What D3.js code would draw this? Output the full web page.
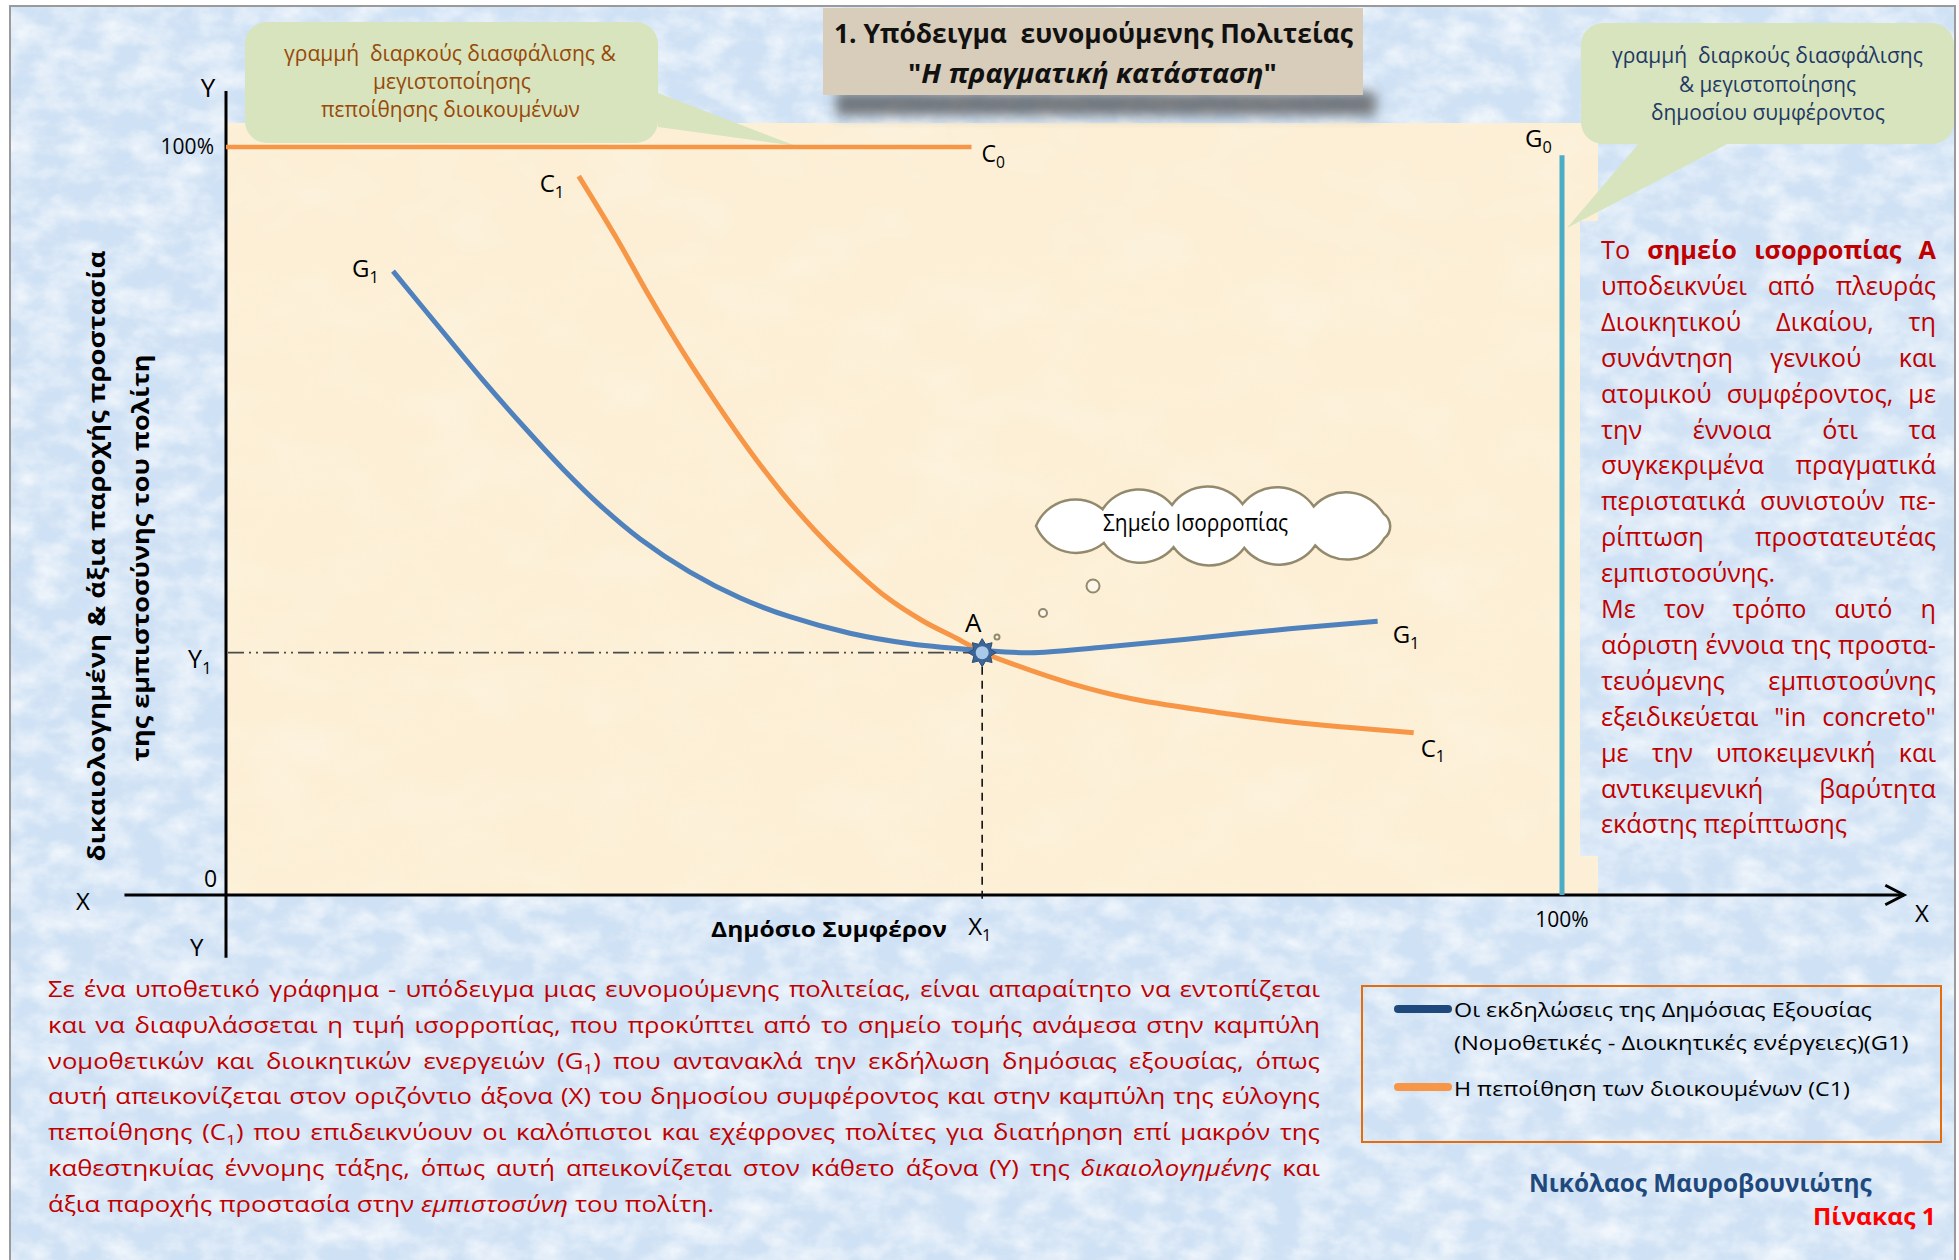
<!DOCTYPE html>
<html><head><meta charset="utf-8">
<script src="https://cdn.jsdelivr.net/npm/d3@7"></script>
<style>html,body{margin:0;padding:0;background:#fff;} svg{display:block;}</style>
</head><body>
<script>
// ---------------- DATA ----------------
// curve points: [x% of public interest, y% of justified trust]
const G1 = [[12.5,83.4],[16.0,75.8],[19.2,68.9],[22.4,62.4],[25.2,57.0],[28.0,52.1],[31.0,47.6],[34.7,43.2],[38.5,39.7],[42.2,37.2],[46.7,35.0],[51.2,33.6],[56.6,32.7],[60.2,32.4],[65.4,33.1],[71.9,34.2],[79.6,35.6],[86.2,36.6]];
const C1 = [[26.4,96.1],[29.3,87.6],[31.7,80.0],[34.2,72.6],[36.7,65.8],[39.2,59.4],[41.7,53.6],[44.1,48.7],[46.5,44.4],[49.3,40.0],[52.2,36.6],[54.6,34.4],[56.6,32.5],[58.4,31.2],[63.2,28.3],[67.9,26.2],[75.1,24.2],[79.9,23.1],[88.9,21.7]];
const C0 = [[0,100],[55.8,100]];
const G0 = [[100,0],[100,98.9]];
const A = {x:56.6, y:32.4};
const yTickValues = [100, A.y, 0];
const yTickLabels = ["100%", "Y<sub>1</sub>", "0"];
const xTickValues = [A.x, 100];
const xTickLabels = ["X<sub>1</sub>", "100%"];
const titleLines = ["1. Υπόδειγμα  ευνομούμενης Πολιτείας", "\"<i>Η πραγματική κατάσταση</i>\""];
const leftCallout = ["γραμμή  διαρκούς διασφάλισης &", "μεγιστοποίησης", "πεποίθησης διοικουμένων"];
const rightCallout = ["γραμμή  διαρκούς διασφάλισης", "& μεγιστοποίησης", "δημοσίου συμφέροντος"];
const yAxisTitle = ["δικαιολογημένη & άξια παροχής προστασία", "της εμπιστοσύνης του πολίτη"];
const xAxisTitle = "Δημόσιο Συμφέρον";
const cloudText = "Σημείο Ισορροπίας";
const noteLines = [
"Το <b>σημείο ισορροπίας Α</b>",
"υποδεικνύει από πλευράς",
"Διοικητικού Δικαίου, τη",
"συνάντηση γενικού και",
"ατομικού συμφέροντος, με",
"την έννοια ότι τα",
"συγκεκριμένα πραγματικά",
"περιστατικά συνιστούν πε-",
"ρίπτωση προστατευτέας",
"εμπιστοσύνης.",
"Με τον τρόπο αυτό η",
"αόριστη έννοια της προστα-",
"τευόμενης εμπιστοσύνης",
"εξειδικεύεται \"in concreto\"",
"με την υποκειμενική και",
"αντικειμενική βαρύτητα",
"εκάστης περίπτωσης"];
const bodyLines = [
"Σε ένα υποθετικό γράφημα - υπόδειγμα μιας ευνομούμενης πολιτείας, είναι απαραίτητο να εντοπίζεται",
"και να διαφυλάσσεται η τιμή ισορροπίας, που προκύπτει από το σημείο τομής ανάμεσα στην καμπύλη",
"νομοθετικών και διοικητικών ενεργειών (G<sub>1</sub>) που αντανακλά την εκδήλωση δημόσιας εξουσίας, όπως",
"αυτή απεικονίζεται στον οριζόντιο άξονα (X) του δημοσίου συμφέροντος και στην καμπύλη της εύλογης",
"πεποίθησης (C<sub>1</sub>) που επιδεικνύουν οι καλόπιστοι και εχέφρονες πολίτες για διατήρηση επί μακρόν της",
"καθεστηκυίας έννομης τάξης, όπως αυτή απεικονίζεται στον κάθετο άξονα (Y) της <i>δικαιολογημένης</i> και",
"άξια παροχής προστασία στην <i>εμπιστοσύνη</i> του πολίτη."];
const legendSeries = ["G1", "C1"];
const legendLines = [["Οι εκδηλώσεις της Δημόσιας Εξουσίας", "(Νομοθετικές - Διοικητικές ενέργειες)(G1)"], ["Η πεποίθηση των διοικουμένων (C1)"]];
const author = "Νικόλαος Μαυροβουνιώτης";
const tableLabel = "Πίνακας 1";

// ---------------- SETUP ----------------
const W = 1959, H = 1260;
const FONT = "'Open Sans','Noto Sans','DejaVu Sans',sans-serif";
const BLUE = "#4f81bd", ORANGE = "#f79646", TEAL = "#4bacc6", DARKBLUE = "#1f497d", RED = "#c00000";
const svg = d3.select("body").append("svg").attr("width", W).attr("height", H).attr("font-family", FONT);
const defs = svg.append("defs");

function paper(id, freq, k, b, seed, oct) {
  const f = defs.append("filter").attr("id", id).attr("filterUnits", "userSpaceOnUse")
    .attr("x", 0).attr("y", 0).attr("width", W).attr("height", H);
  f.append("feTurbulence").attr("type", "fractalNoise").attr("baseFrequency", freq).attr("numOctaves", oct).attr("seed", seed);
  f.append("feColorMatrix").attr("type", "matrix").attr("values", `0 0 0 0 1  0 0 0 0 1  0 0 0 0 1  ${k} 0 0 0 ${b}`);
}
paper("paperBlue", "0.03 0.045", 1.5, -0.5, 3, 4);
paper("paperBeige", "0.012 0.018", 1.0, -0.4, 7, 3);
const blur = defs.append("filter").attr("id", "shadow").attr("x", "-20%").attr("y", "-100%").attr("width", "140%").attr("height", "300%");
blur.append("feGaussianBlur").attr("stdDeviation", 6);

const x = d3.scaleLinear().domain([0, 100]).range([226, 1562]);
const y = d3.scaleLinear().domain([0, 100]).range([895, 147]);

// ---------- text helpers ----------
function parseSegs(str) {
  const re = /<(\/?)(b|i|sub)>|([^<]+)/g; let m; const st = {b:0,i:0,sub:0}; const segs = [];
  while ((m = re.exec(str))) {
    if (m[2]) { st[m[2]] = m[1] ? 0 : 1; continue; }
    segs.push({t:m[3], b:st.b, i:st.i, sub:st.sub});
  }
  return segs;
}
function parseWords(str) {
  const words = []; let cur = [];
  parseSegs(str).forEach(s => {
    s.t.split(/( +)/).forEach(p => {
      if (p === "") return;
      if (/^ +$/.test(p)) { if (cur.length) { words.push(cur); cur = []; } }
      else cur.push({t:p, b:s.b, i:s.i, sub:s.sub});
    });
  });
  if (cur.length) words.push(cur);
  return words;
}
function rich(t, segs, size) {
  let shifted = false;
  segs.forEach(s => {
    const ts = t.append("tspan").text(s.t);
    if (s.b) ts.attr("font-weight", "bold");
    if (s.i) ts.attr("font-style", "italic");
    if (s.sub) { ts.attr("font-size", size * 0.68).attr("dy", size * 0.24); shifted = true; }
    else if (shifted) { ts.attr("dy", -size * 0.24); shifted = false; }
  });
}
function label(g, o) {
  const t = g.append("text").attr("x", o.x).attr("y", o.y).attr("font-size", o.size)
    .attr("fill", o.fill || "#000").style("white-space", "pre");
  if (o.weight) t.attr("font-weight", o.weight);
  if (o.anchor) t.attr("text-anchor", o.anchor);
  if (o.transform) t.attr("transform", o.transform);
  rich(t, parseSegs(o.text), o.size);
  if (o.width) t.attr("textLength", o.width).attr("lengthAdjust", "spacingAndGlyphs");
  return t;
}
// fit a single line into a width by horizontal scaling
function fitLabel(g, o) {
  const t = g.append("text").attr("font-size", o.size).attr("fill", o.fill || "#000").style("white-space", "pre");
  if (o.weight) t.attr("font-weight", o.weight);
  rich(t, parseSegs(o.text), o.size);
  const w = t.node().getComputedTextLength();
  t.attr("transform", `translate(${o.x},${o.y}) scale(${o.width / w},1)`);
  return t;
}
function block(g, lines, o) {
  const tmp = g.append("text").attr("font-size", o.size).style("white-space", "pre");
  tmp.text("a a"); const w1 = tmp.node().getComputedTextLength();
  tmp.text("aa"); const w2 = tmp.node().getComputedTextLength();
  tmp.remove();
  const sp = w1 - w2;
  const laid = lines.map(ln => parseWords(ln).map(wd => {
    const t = g.append("text").attr("font-size", o.size).attr("fill", o.fill);
    rich(t, wd, o.size);
    return {t, w: t.node().getComputedTextLength()};
  }));
  const cal = laid[o.calibLine];
  const s = o.calibWidth / (d3.sum(cal, d => d.w) + sp * (cal.length - 1));
  const Wd = o.x1 - o.x0;
  laid.forEach((els, i) => {
    const sum = d3.sum(els, d => d.w);
    let sc = s, gap = sp * s;
    if (o.justify(i) && els.length > 1) {
      gap = (Wd - sum * sc) / (els.length - 1);
      const minG = sp * s * 0.7;
      if (gap < minG) { sc = (Wd - minG * (els.length - 1)) / sum; gap = minG; }
    }
    let cx = o.x0; const yy = o.y0 + i * o.lh;
    els.forEach(e => { e.t.attr("transform", `translate(${cx},${yy}) scale(${sc},1)`); cx += e.w * sc + gap; });
  });
}

// ---------------- BACKGROUND ----------------
const bg = svg.append("g");
bg.append("rect").attr("x", 10).attr("y", 6).attr("width", 1945).attr("height", 1270).attr("fill", "#cfe1f4");
bg.append("rect").attr("x", 10).attr("y", 6).attr("width", 1945).attr("height", 1270).attr("filter", "url(#paperBlue)").attr("opacity", 0.85);
bg.append("rect").attr("x", 10).attr("y", 6).attr("width", 1945).attr("height", 1270).attr("fill", "none").attr("stroke", "#9a9a9a").attr("stroke-width", 2);

// beige plotting area (minus the note box)
const beigePts = [[226,123],[1598,123],[1598,221],[1580,221],[1580,856],[1598,856],[1598,895],[226,895]];
const beigeD = "M" + beigePts.map(p => p.join(",")).join("L") + "Z";
defs.append("clipPath").attr("id", "beigeClip").append("path").attr("d", beigeD);
bg.append("path").attr("d", beigeD).attr("fill", "#fcefd5");
bg.append("rect").attr("x", 226).attr("y", 123).attr("width", 1372).attr("height", 772)
  .attr("clip-path", "url(#beigeClip)").attr("filter", "url(#paperBeige)").attr("opacity", 0.4);

// title box
bg.append("rect").attr("x", 836).attr("y", 92).attr("width", 540).attr("height", 24).attr("fill", "#3f3f3f")
  .attr("opacity", 0.65).attr("filter", "url(#shadow)");
bg.append("rect").attr("x", 823).attr("y", 8).attr("width", 540).attr("height", 87).attr("fill", "#d8ccba");
fitLabel(svg, {x: 834, y: 43, text: titleLines[0], size: 27, weight: "bold", width: 519, fill: "#111"});
fitLabel(svg, {x: 908, y: 83, text: titleLines[1], size: 27, weight: "bold", width: 369, fill: "#111"});

// callouts
const GREEN = "#d7e4bd";
const cg = svg.append("g");
cg.append("path").attr("d", "M658,93L796,146L658,127Z").attr("fill", GREEN);
cg.append("rect").attr("x", 245).attr("y", 22).attr("width", 413).attr("height", 121).attr("rx", 22).attr("fill", GREEN);
cg.append("path").attr("d", "M1642,140L1567,228L1735,140Z").attr("fill", GREEN);
cg.append("rect").attr("x", 1581).attr("y", 23).attr("width", 373).attr("height", 121).attr("rx", 22).attr("fill", GREEN);
[[284,61,332],[373,89,158],[321,117,259]].forEach((p, i) =>
  fitLabel(cg, {x: p[0], y: p[1], text: leftCallout[i], size: 21, width: p[2], fill: "#984807"}));
[[1612,63,311],[1679,92,177],[1651,120,234]].forEach((p, i) =>
  fitLabel(cg, {x: p[0], y: p[1], text: rightCallout[i], size: 21, width: p[2], fill: "#1f3864"}));

// ---------------- CHART ----------------
const ch = svg.append("g");
const line = d3.line().x(d => x(d[0])).y(d => y(d[1]));
const smooth = d3.line().x(d => x(d[0])).y(d => y(d[1])).curve(d3.curveCatmullRom.alpha(0.5));

// axes
ch.append("line").attr("x1", x(-7.6)).attr("x2", x(125.6)).attr("y1", y(0)).attr("y2", y(0)).attr("stroke", "#000").attr("stroke-width", 3);
ch.append("path").attr("d", `M${x(124.2)},${y(1.3)}L${x(125.6)},${y(0)}L${x(124.2)},${y(-1.3)}`)
  .attr("fill", "none").attr("stroke", "#000").attr("stroke-width", 3);
ch.append("line").attr("x1", x(0)).attr("x2", x(0)).attr("y1", y(107.5)).attr("y2", y(-8.4)).attr("stroke", "#000").attr("stroke-width", 3);

// guide lines through A
ch.append("line").attr("x1", x(0) + 2).attr("x2", x(A.x)).attr("y1", y(A.y)).attr("y2", y(A.y))
  .attr("stroke", "#4a4a4a").attr("stroke-width", 1.6).attr("stroke-dasharray", "16,5,2,5,2,5");
ch.append("line").attr("x1", x(A.x)).attr("x2", x(A.x)).attr("y1", y(A.y)).attr("y2", y(-1.2))
  .attr("stroke", "#111").attr("stroke-width", 1.6).attr("stroke-dasharray", "8,6");

// C0 and G0
ch.append("path").attr("d", line(C0)).attr("stroke", ORANGE).attr("stroke-width", 4.5).attr("fill", "none");
ch.append("path").attr("d", line(G0)).attr("stroke", TEAL).attr("stroke-width", 5).attr("fill", "none");
// curves
ch.append("path").attr("d", smooth(C1)).attr("stroke", ORANGE).attr("stroke-width", 5).attr("fill", "none");
ch.append("path").attr("d", smooth(G1)).attr("stroke", BLUE).attr("stroke-width", 5).attr("fill", "none");

// equilibrium star
const starPts = d3.range(16).map(i => [i * Math.PI / 8, i % 2 ? 9 : 14]);
const star = d3.lineRadial().angle(d => d[0]).radius(d => d[1]).curve(d3.curveLinearClosed);
const sg = ch.append("g").attr("transform", `translate(${x(A.x)},${y(A.y)})`);
sg.append("path").attr("d", star(starPts)).attr("fill", "#3c6597").attr("stroke", "#2b4c78").attr("stroke-width", 1);
sg.append("circle").attr("r", 6.5).attr("fill", "#a9c8ea");

// cloud callout
function cloudPath(cx, cy, rx, ry, n, f) {
  const N = 720, pts = [], cum = [0];
  for (let i = 0; i <= N; i++) {
    const a = i / N * 2 * Math.PI; pts.push([cx + rx * Math.cos(a), cy + ry * Math.sin(a)]);
    if (i > 0) cum.push(cum[i - 1] + Math.hypot(pts[i][0] - pts[i - 1][0], pts[i][1] - pts[i - 1][1]));
  }
  const P = cum[N], nodes = []; let j = 0;
  for (let k = 0; k < n; k++) { const t = (k + 0.5) / n * P; while (cum[j + 1] < t) j++; nodes.push(pts[j]); }
  let d = `M${nodes[0][0]},${nodes[0][1]}`;
  for (let k = 1; k <= n; k++) {
    const p = nodes[(k - 1) % n], q = nodes[k % n];
    const r = Math.hypot(q[0] - p[0], q[1] - p[1]) * f;
    d += `A${r},${r} 0 0 1 ${q[0]},${q[1]}`;
  }
  return d + "Z";
}
const CLOUD = "#938a6d";
ch.append("path").attr("d", cloudPath(1226, 526, 190, 22, 11, 0.62)).attr("fill", "#fff").attr("stroke", CLOUD).attr("stroke-width", 2.5);
[[1093,586,6.5],[1043,613,4],[997,637,2.5]].forEach(c =>
  ch.append("circle").attr("cx", c[0]).attr("cy", c[1]).attr("r", c[2]).attr("fill", "#fdf7ea").attr("stroke", CLOUD).attr("stroke-width", 2));
fitLabel(ch, {x: 1103, y: 531, text: cloudText, size: 23, width: 185});

// tick labels
label(ch, {x: x(0) - 12, y: y(yTickValues[0]) + 7, text: yTickLabels[0], size: 21, anchor: "end"});
label(ch, {x: x(0) - 38, y: y(yTickValues[1]) + 15, text: yTickLabels[1], size: 25});
label(ch, {x: x(0) - 22, y: y(yTickValues[2]) - 8, text: yTickLabels[2], size: 23});
label(ch, {x: x(xTickValues[0]) - 14, y: y(0) + 40, text: xTickLabels[0], size: 24});
label(ch, {x: x(xTickValues[1]), y: y(0) + 32, text: xTickLabels[1], size: 21, anchor: "middle"});

// axis letters
label(ch, {x: x(0) - 18, y: y(106.7), text: "Y", size: 26, anchor: "middle"});
label(ch, {x: 76, y: y(0) + 15, text: "X", size: 24});
label(ch, {x: 190, y: y(0) + 61, text: "Y", size: 24});
label(ch, {x: 1915, y: y(0) + 27, text: "X", size: 24});
fitLabel(ch, {x: 711, y: y(0) + 42, text: xAxisTitle, size: 22, weight: "bold", width: 236});
label(ch, {x: 0, y: 0, text: yAxisTitle[0], size: 24, weight: "bold", anchor: "middle", transform: "translate(105,556) rotate(-90)"})
  .attr("textLength", 611).attr("lengthAdjust", "spacingAndGlyphs");
label(ch, {x: 0, y: 0, text: yAxisTitle[1], size: 24, weight: "bold", anchor: "middle", transform: "translate(149,558) rotate(-90)"})
  .attr("textLength", 407).attr("lengthAdjust", "spacingAndGlyphs");

// curve labels
label(ch, {x: x(C0[1][0]) + 10, y: y(100) + 15, text: "C<sub>0</sub>", size: 23});
label(ch, {x: x(G0[1][0]) - 37, y: y(G0[1][1]) - 8, text: "G<sub>0</sub>", size: 24});
label(ch, {x: x(C1[0][0]) - 39, y: y(C1[0][1]) + 16, text: "C<sub>1</sub>", size: 24});
label(ch, {x: x(G1[0][0]) - 41, y: y(G1[0][1]) + 6, text: "G<sub>1</sub>", size: 24});
label(ch, {x: x(G1[G1.length - 1][0]) + 15, y: y(G1[G1.length - 1][1]) + 22, text: "G<sub>1</sub>", size: 24});
label(ch, {x: x(C1[C1.length - 1][0]) + 7, y: y(C1[C1.length - 1][1]) + 24, text: "C<sub>1</sub>", size: 24});
label(ch, {x: x(A.x) - 9, y: y(A.y) - 21, text: "A", size: 26, anchor: "middle"});

// ---------------- NOTE TEXT (right) ----------------
const ng = svg.append("g");
block(ng, noteLines, {x0: 1601, x1: 1936, y0: 259, lh: 35.9, size: 25, fill: RED,
  calibLine: 16, calibWidth: 246, justify: i => i !== 9 && i !== 16});

// ---------------- BODY TEXT (bottom) ----------------
const bgx = svg.append("g");
block(bgx, bodyLines, {x0: 48, x1: 1320, y0: 997, lh: 35.8, size: 22, fill: RED,
  calibLine: 6, calibWidth: 666, justify: i => i !== 6});

// ---------------- LEGEND ----------------
const lg = svg.append("g");
lg.append("rect").attr("x", 1362).attr("y", 986).attr("width", 579).attr("height", 156)
  .attr("fill", "none").attr("stroke", "#e46c0a").attr("stroke-width", 2);
const legendColor = {G1: DARKBLUE, C1: ORANGE};
const legendY = [1009, 1087];
const legendWidths = [[418, 455], [396]];
const legendBase = [[1017, 1050], [1096]];
legendSeries.forEach((s, i) => {
  lg.append("line").attr("x1", 1398).attr("x2", 1448).attr("y1", legendY[i]).attr("y2", legendY[i])
    .attr("stroke", legendColor[s]).attr("stroke-width", 8).attr("stroke-linecap", "round");
  legendLines[i].forEach((t, j) => fitLabel(lg, {x: 1454, y: legendBase[i][j], text: t, size: 20, width: legendWidths[i][j]}));
});

// author & table label
fitLabel(svg, {x: 1529, y: 1192, text: author, size: 25, weight: "bold", width: 343, fill: DARKBLUE});
fitLabel(svg, {x: 1813, y: 1225, text: tableLabel, size: 23, weight: "bold", width: 123, fill: "#ff0000"});
</script>
</body></html>
